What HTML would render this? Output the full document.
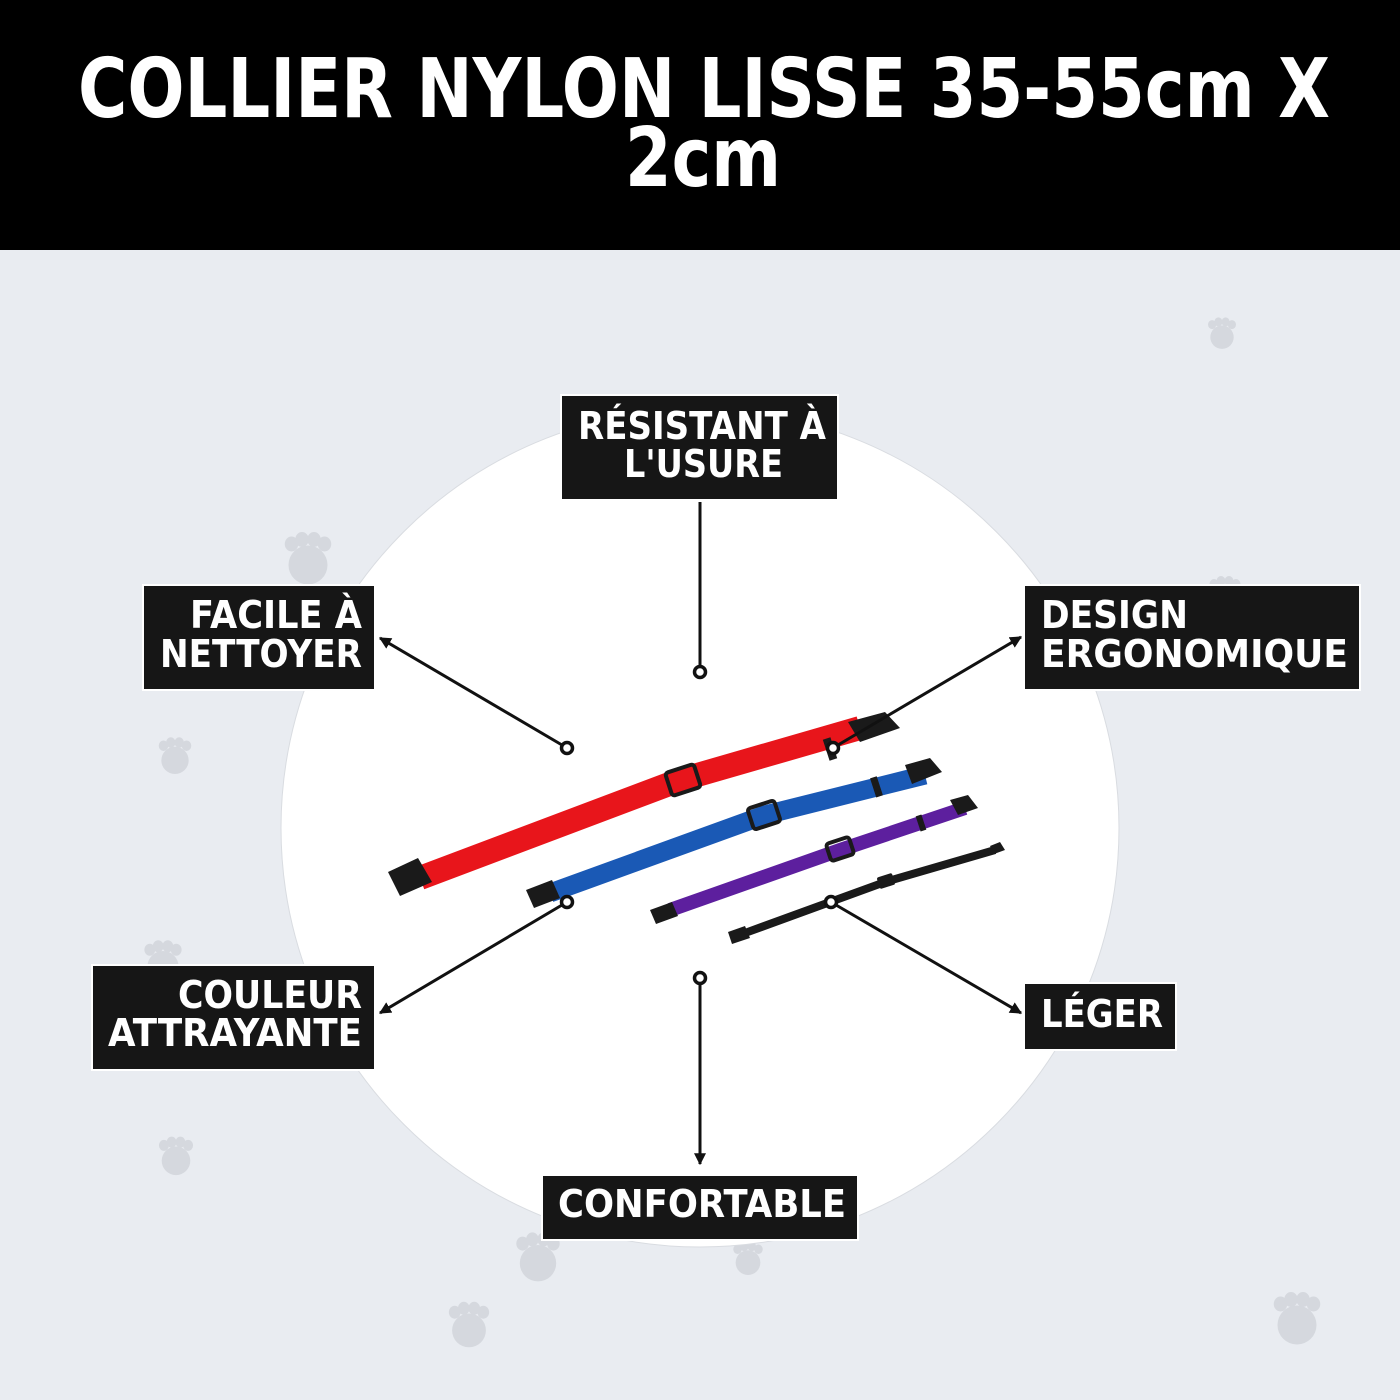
<!DOCTYPE html>
<html><head><meta charset="utf-8"><style>
html,body{margin:0;padding:0;width:1400px;height:1400px;overflow:hidden;background:#e9ecf1}
svg{display:block}
text{font-family:"DejaVu Sans","Liberation Sans",sans-serif;font-weight:bold;fill:#fff}
</style></head><body>
<svg width="1400" height="1400" viewBox="0 0 1400 1400">
<defs>
<g id="paw"><ellipse cx="0" cy="8" rx="13" ry="13"/><ellipse cx="-11" cy="-6" rx="4.5" ry="5"/><ellipse cx="-4" cy="-9" rx="4.5" ry="5"/><ellipse cx="4" cy="-9" rx="4.5" ry="5"/><ellipse cx="11" cy="-6" rx="4.5" ry="5"/></g>
<marker id="ar" viewBox="0 0 10 10" refX="9" refY="5" markerWidth="4" markerHeight="4" orient="auto"><path d="M0,0 L10,5 L0,10 z" fill="#111"/></marker>
</defs>
<rect x="0" y="0" width="1400" height="250" fill="#000"/>
<text x="704" y="117" font-size="82" text-anchor="middle" textLength="1252" lengthAdjust="spacingAndGlyphs">COLLIER NYLON LISSE 35-55cm X</text>
<text x="703" y="186" font-size="82" text-anchor="middle" textLength="156" lengthAdjust="spacingAndGlyphs">2cm</text>

<g fill="#d5d8de">
<use href="#paw" transform="translate(1222,330) scale(0.9)"/>
<use href="#paw" transform="translate(308,553) scale(1.5)"/>
<use href="#paw" transform="translate(175,752) scale(1.05)"/>
<use href="#paw" transform="translate(1225,590) scale(1)"/>
<use href="#paw" transform="translate(163,957) scale(1.2)"/>
<use href="#paw" transform="translate(176,1152) scale(1.1)"/>
<use href="#paw" transform="translate(538,1252) scale(1.4)"/>
<use href="#paw" transform="translate(748,1255) scale(0.95)"/>
<use href="#paw" transform="translate(469,1320) scale(1.3)"/>
<use href="#paw" transform="translate(1297,1313) scale(1.5)"/>
</g>

<circle cx="700" cy="828" r="419" fill="#fff" stroke="#d9dce1" stroke-width="1"/>

<g stroke-linecap="butt" fill="none">
<path d="M420,878 L680,780 L860,728" stroke="#e8151b" stroke-width="24"/>
<path d="M550,893 L765,815 L925,775" stroke="#1a59b5" stroke-width="19"/>
<path d="M670,910 L840,850 L965,808" stroke="#5d1f9e" stroke-width="14"/>
<path d="M745,933 L885,882 L995,850" stroke="#1a1a1a" stroke-width="8"/>
</g>
<g fill="#1a1a1a">
<path d="M388,872 L418,858 L432,882 L400,896 z"/>
<path d="M526,890 L552,880 L560,898 L534,908 z"/>
<path d="M650,910 L672,902 L678,916 L656,924 z"/>
<path d="M728,932 L745,926 L750,938 L732,944 z"/>
<path d="M848,722 L885,712 L900,728 L860,742 z"/>
<path d="M905,765 L930,758 L942,772 L912,784 z"/>
<path d="M950,800 L968,795 L978,808 L958,815 z"/>
<path d="M990,846 L1000,842 L1005,850 L994,854 z"/>
<rect x="668" y="768" width="30" height="24" rx="3" transform="rotate(-18 683 780)" fill="none" stroke="#1a1a1a" stroke-width="4"/>
<rect x="750" y="804" width="28" height="22" rx="3" transform="rotate(-18 764 815)" fill="none" stroke="#1a1a1a" stroke-width="4"/>
<rect x="828" y="840" width="24" height="18" rx="3" transform="rotate(-18 840 849)" fill="none" stroke="#1a1a1a" stroke-width="4"/>
<rect x="878" y="875" width="16" height="12" rx="2" transform="rotate(-18 886 881)"/>
<rect x="826" y="738" width="8" height="22" transform="rotate(-18 830 749)"/>
<rect x="873" y="777" width="7" height="20" transform="rotate(-18 876 787)"/>
<rect x="918" y="815" width="6" height="16" transform="rotate(-18 921 823)"/>
</g>

<g stroke="#111" stroke-width="3" fill="none">
<line x1="700" y1="502" x2="700" y2="666"/>
<line x1="562" y1="745" x2="380" y2="638" marker-end="url(#ar)"/>
<line x1="838" y1="745" x2="1021" y2="637" marker-end="url(#ar)"/>
<line x1="562" y1="905" x2="380" y2="1013" marker-end="url(#ar)"/>
<line x1="836" y1="905" x2="1021" y2="1013" marker-end="url(#ar)"/>
<line x1="700" y1="984" x2="700" y2="1164" marker-end="url(#ar)"/>
</g>
<g stroke="#111" stroke-width="3.5" fill="#fff">
<circle cx="700" cy="672" r="5.5"/>
<circle cx="567" cy="748" r="5.5"/>
<circle cx="833" cy="748" r="5.5"/>
<circle cx="567" cy="902" r="5.5"/>
<circle cx="831" cy="902" r="5.5"/>
<circle cx="700" cy="978" r="5.5"/>
</g>

<g fill="#161616" stroke="#fff" stroke-width="2">
<rect x="561" y="395" width="277" height="105"/>
<rect x="143" y="585" width="232" height="105"/>
<rect x="1024" y="585" width="336" height="105"/>
<rect x="92" y="965" width="283" height="105"/>
<rect x="1024" y="983" width="152" height="67"/>
<rect x="542" y="1175" width="316" height="65"/>
</g>
<g font-size="38">
<text x="578" y="439" textLength="248" lengthAdjust="spacingAndGlyphs">RÉSISTANT À</text>
<text x="624" y="477" textLength="159" lengthAdjust="spacingAndGlyphs">L'USURE</text>
<text x="190" y="628" textLength="172" lengthAdjust="spacingAndGlyphs">FACILE À</text>
<text x="160" y="667" textLength="202" lengthAdjust="spacingAndGlyphs">NETTOYER</text>
<text x="1041" y="628" textLength="147" lengthAdjust="spacingAndGlyphs">DESIGN</text>
<text x="1041" y="667" textLength="307" lengthAdjust="spacingAndGlyphs">ERGONOMIQUE</text>
<text x="178" y="1008" textLength="184" lengthAdjust="spacingAndGlyphs">COULEUR</text>
<text x="108" y="1046" textLength="254" lengthAdjust="spacingAndGlyphs">ATTRAYANTE</text>
<text x="1041" y="1027" textLength="122" lengthAdjust="spacingAndGlyphs">LÉGER</text>
<text x="558" y="1217" textLength="288" lengthAdjust="spacingAndGlyphs">CONFORTABLE</text>
</g>
</svg>
</body></html>
